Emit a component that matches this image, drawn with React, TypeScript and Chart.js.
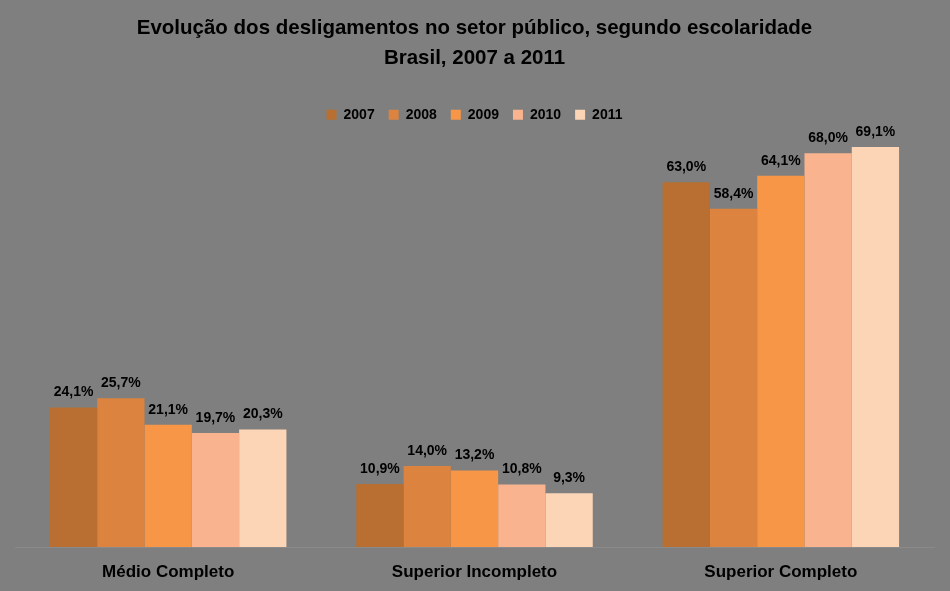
import React, { useEffect, useRef } from 'react';
import { Chart, registerables } from 'chart.js';

Chart.register(...registerables);

const categories = ['Médio Completo', 'Superior Incompleto', 'Superior Completo'];
const years = ['2007', '2008', '2009', '2010', '2011'];
const values2007 = [24.1, 10.9, 63.0];
const values2008 = [25.7, 14.0, 58.4];
const values2009 = [21.1, 13.2, 64.1];
const values2010 = [19.7, 10.8, 68.0];
const values2011 = [20.3, 9.3, 69.1];
const seriesValues = [values2007, values2008, values2009, values2010, values2011];
const colors = ['#B86F31', '#DB833F', '#F79646', '#F9B48F', '#FCD5B6'];
const titleLines = ['Evolução dos desligamentos no setor público, segundo escolaridade', 'Brasil, 2007 a 2011'];

const FONT = "'Liberation Sans', Arial, sans-serif";

const valueLabels = {
  id: 'valueLabels',
  afterDatasetsDraw(chart: any) {
    const ctx = chart.ctx;
    ctx.save();
    ctx.font = `bold 14px ${FONT}`;
    ctx.fillStyle = '#000';
    ctx.textAlign = 'center';
    ctx.textBaseline = 'bottom';
    chart.data.datasets.forEach((ds: any, i: number) => {
      const meta = chart.getDatasetMeta(i);
      meta.data.forEach((el: any, j: number) => {
        const v = ds.data[j] as number;
        ctx.fillText(v.toFixed(1).replace('.', ',') + '%', el.x, el.y - 8);
      });
    });
    ctx.restore();
  },
};

export default function App() {
  const ref = useRef<HTMLCanvasElement>(null);
  useEffect(() => {
    const chart = new Chart(ref.current!, {
      type: 'bar',
      data: {
        labels: categories,
        datasets: years.map((y, i) => ({
          label: y,
          data: seriesValues[i],
          backgroundColor: colors[i],
          borderWidth: 0,
          categoryPercentage: 0.772,
          barPercentage: 1,
        })),
      },
      options: {
        responsive: false,
        animation: false,
        devicePixelRatio: 1,
        layout: { padding: { left: 15, right: 16, top: 8, bottom: 0 } },
        plugins: {
          title: {
            display: true,
            text: titleLines,
            color: '#000',
            font: { family: FONT, size: 20.5, weight: 'bold', lineHeight: 1.46 },
            padding: { top: 5, bottom: 21 },
          },
          legend: {
            display: true,
            labels: {
              color: '#000',
              boxWidth: 10,
              boxHeight: 10,
              padding: 14,
              font: { family: FONT, size: 14, weight: 'bold' },
            },
          },
          tooltip: { enabled: false },
        },
        scales: {
          x: {
            grid: { display: false, drawTicks: false },
            border: { display: true, color: '#8A8A8A' },
            afterFit: (scale: any) => {
              scale.height = 44;
            },
            ticks: {
              color: '#000',
              padding: 15,
              font: { family: FONT, size: 17, weight: 'bold' },
            },
          },
          y: {
            display: false,
            min: 0,
            max: 71.7,
          },
        },
      },
      plugins: [valueLabels],
    });
    return () => chart.destroy();
  }, []);
  return (
    <div style={{ position: 'absolute', left: 0, top: 0, width: 950, height: 591, background: '#7F7F7F' }}>
      <canvas ref={ref} width={950} height={591} />
    </div>
  );
}
